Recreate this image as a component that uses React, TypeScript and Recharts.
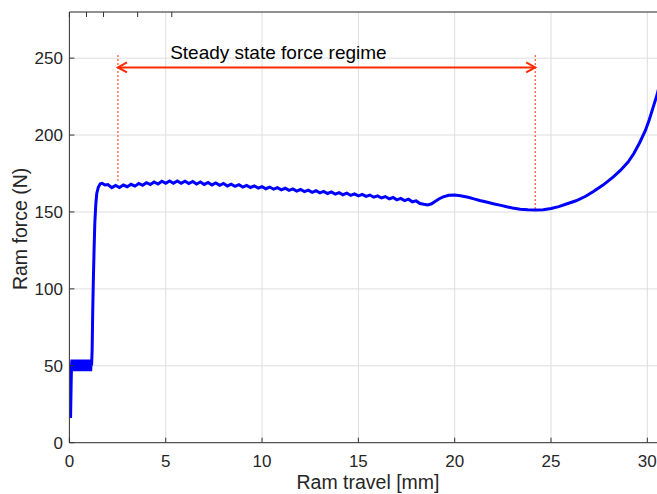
import React from 'react';
import { LineChart, Line, XAxis, YAxis, CartesianGrid, ReferenceLine, ReferenceDot } from 'recharts';

const travel: number[] = [
  0.06, 0.09, 0.11,
  0.13, 0.155, 0.18, 0.205, 0.23, 0.255, 0.28, 0.305, 0.33, 0.355, 0.38, 0.405, 0.43, 0.455, 0.48, 0.505, 0.53, 0.555,
  0.58, 0.605, 0.63, 0.655, 0.68, 0.705, 0.73, 0.755, 0.78, 0.805, 0.83, 0.855, 0.88, 0.905, 0.93, 0.955, 0.98, 1.005,
  1.03, 1.055, 1.08, 1.105, 1.13, 1.15,
  1.18, 1.21, 1.24, 1.28, 1.32, 1.37, 1.42, 1.5, 1.6, 1.7, 1.85,
  2.0, 2.2, 2.4, 2.6, 2.8, 3.0, 3.2, 3.4, 3.6, 3.8, 4.0, 4.2, 4.4, 4.6, 4.8, 5.0, 5.2, 5.4, 5.6, 5.8,
  6.0, 6.2, 6.4, 6.6, 6.8, 7.0, 7.2, 7.4, 7.6, 7.8, 8.0, 8.2, 8.4, 8.6, 8.8, 9.0, 9.2, 9.4, 9.6, 9.8,
  10.0, 10.2, 10.4, 10.6, 10.8, 11.0, 11.2, 11.4, 11.6, 11.8, 12.0, 12.2, 12.4, 12.6, 12.8, 13.0, 13.2, 13.4, 13.6, 13.8,
  14.0, 14.2, 14.4, 14.6, 14.8, 15.0, 15.2, 15.4, 15.6, 15.8, 16.0, 16.2, 16.4, 16.6, 16.8, 17.0, 17.2, 17.4, 17.6, 17.8,
  18.0, 18.2, 18.4, 18.6, 18.8, 19.0, 19.2, 19.4, 19.7, 20.0, 20.3, 20.7, 21.0, 21.3, 21.7, 22.0, 22.4, 22.7, 23.0, 23.4, 23.8,
  24.2, 24.6, 25.0, 25.4, 25.8, 26.3, 26.8, 27.2, 27.7, 28.25, 28.6, 29.0, 29.3, 29.6, 29.9, 30.1, 30.3, 30.5, 30.7,
];

const force: number[] = [
  16, 38, 50,
  54, 46.5, 53.5, 47, 54, 46.5, 53.5, 47, 54, 46.5, 53.5, 47, 54, 47, 53.5, 46.5, 54, 47,
  53.5, 46.5, 54, 47, 53.5, 46.5, 54, 47, 53.5, 46.5, 54, 47, 53.5, 46.5, 54, 47, 53.5, 46.5,
  54, 47, 53.5, 46.5, 54, 50,
  60, 85, 104, 125, 143, 155, 162, 166, 168.3, 168.6, 167.5,
  167.8, 165.8, 167.2, 165.9, 167.5, 166.4, 168.0, 166.8, 168.5, 167.3, 169.0, 167.8, 169.5, 168.2, 170.0, 168.6, 170.2, 168.7, 170.1, 168.6,
  170.0, 168.5, 169.8, 168.2, 169.5, 167.9, 169.2, 167.6, 168.9, 167.3, 168.5, 166.9, 168.1, 166.6, 167.7, 166.2, 167.3, 165.9, 166.9, 165.5,
  166.5, 165.1, 166.2, 164.8, 165.8, 164.4, 165.4, 164.0, 165.0, 163.6, 164.6, 163.2, 164.2, 162.8, 163.8, 162.4, 163.4, 162.0, 163.0, 161.6,
  162.6, 161.2, 162.2, 160.8, 161.8, 160.5, 161.4, 160.1, 161.0, 159.6, 160.5, 159.1, 160.0, 158.5, 159.4, 157.9, 158.8, 157.4, 158.3, 156.6,
  157.2, 155.5, 155.0, 154.6, 155.3, 157.0, 158.6, 159.8, 160.8, 161.0, 160.6, 159.6, 158.5, 157.5, 156.3, 155.3, 154.3, 153.4, 152.6, 151.8, 151.4,
  151.2, 151.4, 152.3, 153.5, 155.2, 157.3, 160.2, 163.3, 167.5, 173, 177, 182.5, 188, 195, 203, 210, 218, 226, 236,
];

const xTicks: number[] = [0, 5, 10, 15, 20, 25, 30];
const yTicks: number[] = [0, 50, 100, 150, 200, 250];

const regimeStart = 2.52;
const regimeEnd = 24.18;
const arrowLevel = 244;
const guideTop = 252;
const guideStartBottom = 169.5;
const guideEndBottom = 151.3;
const annotation = 'Steady state force regime';
const annotationAt = { x: 5.23, y: 249.3 };

const data = travel.map((t, i) => ({ x: t, y: force[i] }));

const FONT = '"Liberation Sans", Arial, Helvetica, sans-serif';
const AXIS = '#333333';
const TEXT = '#262626';
const RED = '#ff2a00';

const BottomTick = (props: any) => {
  const { x, y, payload } = props;
  return (
    <g>
      <line x1={x} y1={y} x2={x} y2={y - 5} stroke={AXIS} strokeWidth={1} />
      <text x={x} y={y + 24} textAnchor="middle" fontSize={17} fontFamily={FONT} fill={TEXT}>
        {payload.value}
      </text>
    </g>
  );
};

const TopTick = (props: any) => {
  const { x, y } = props;
  return <line x1={x} y1={y} x2={x} y2={y + 5} stroke={AXIS} strokeWidth={1} />;
};

const LeftTick = (props: any) => {
  const { x, y, payload } = props;
  return (
    <g>
      <line x1={x} y1={y} x2={x + 5} y2={y} stroke={AXIS} strokeWidth={1} />
      <text x={x - 6.5} y={y + 6} textAnchor="end" fontSize={17} fontFamily={FONT} fill={TEXT}>
        {payload.value}
      </text>
    </g>
  );
};

const ArrowShape = (props: any) => {
  const { x1, y1, x2, y2 } = props;
  const h = 9;
  const w = 5;
  return (
    <g>
      <line x1={x1} y1={y1} x2={x2} y2={y2} stroke={RED} strokeWidth={2} />
      <polyline points={`${x1 + h},${y1 - w} ${x1},${y1} ${x1 + h},${y1 + w}`} fill="none" stroke={RED} strokeWidth={2} />
      <polyline points={`${x2 - h},${y2 - w} ${x2},${y2} ${x2 - h},${y2 + w}`} fill="none" stroke={RED} strokeWidth={2} />
    </g>
  );
};

const AnnotationShape = (props: any) => {
  const { cx, cy } = props;
  return (
    <text x={cx} y={cy} textAnchor="start" fontSize={19} fontFamily={FONT} fill="#000">
      {annotation}
    </text>
  );
};

const XTitle = (props: any) => {
  const vb = props.viewBox || { x: 69.4, y: 442.7, width: 597.2 };
  return (
    <text x={vb.x + vb.width / 2} y={vb.y + 46.5} textAnchor="middle" fontSize={19.5} fontFamily={FONT} fill={TEXT}>
      Ram travel [mm]
    </text>
  );
};

const YTitle = (props: any) => {
  const vb = props.viewBox || { y: 12, height: 430.7 };
  const cx = 27;
  const cy = vb.y + vb.height / 2 + 1.5;
  return (
    <text x={cx} y={cy} textAnchor="middle" fontSize={19.5} fontFamily={FONT} fill={TEXT} transform={`rotate(-90, ${cx}, ${cy})`}>
      Ram force (N)
    </text>
  );
};

export default function App() {
  return (
    <div style={{ position: 'absolute', left: 0, top: 0, width: 657, height: 494, overflow: 'hidden', background: '#fff' }}>
      <LineChart width={667} height={494} data={data} margin={{ top: 0, left: 0, right: 0.4, bottom: 0 }}>
        <CartesianGrid stroke="#dedede" strokeWidth={1} />
        <XAxis
          dataKey="x"
          type="number"
          domain={[0, 31]}
          ticks={xTicks}
          allowDataOverflow
          height={51.3}
          tickSize={0}
          tickMargin={0}
          tickLine={false}
          axisLine={{ stroke: AXIS, strokeWidth: 1 }}
          tick={<BottomTick />}
          label={<XTitle />}
        />
        <XAxis
          xAxisId="top"
          orientation="top"
          type="number"
          domain={[0, 31]}
          ticks={xTicks}
          allowDataOverflow
          height={12}
          tickSize={0}
          tickMargin={0}
          tickLine={false}
          axisLine={{ stroke: AXIS, strokeWidth: 1 }}
          tick={<TopTick />}
        />
        <YAxis
          type="number"
          domain={[0, 280]}
          ticks={yTicks}
          allowDataOverflow
          width={69.4}
          tickSize={0}
          tickMargin={0}
          tickLine={false}
          axisLine={{ stroke: AXIS, strokeWidth: 1 }}
          tick={<LeftTick />}
          label={<YTitle />}
        />
        <ReferenceLine
          segment={[{ x: regimeStart, y: guideTop }, { x: regimeStart, y: guideStartBottom }]}
          stroke={RED}
          strokeWidth={1}
          strokeDasharray="2 2"
        />
        <ReferenceLine
          segment={[{ x: regimeEnd, y: guideTop }, { x: regimeEnd, y: guideEndBottom }]}
          stroke={RED}
          strokeWidth={1}
          strokeDasharray="2 2"
        />
        <Line
          dataKey="y"
          type="linear"
          stroke="#0000ff"
          strokeWidth={3}
          dot={false}
          isAnimationActive={false}
        />
        <ReferenceLine
          segment={[{ x: regimeStart, y: arrowLevel }, { x: regimeEnd, y: arrowLevel }]}
          shape={<ArrowShape />}
        />
        <ReferenceDot x={annotationAt.x} y={annotationAt.y} r={0} shape={<AnnotationShape />} />
      </LineChart>
    </div>
  );
}
